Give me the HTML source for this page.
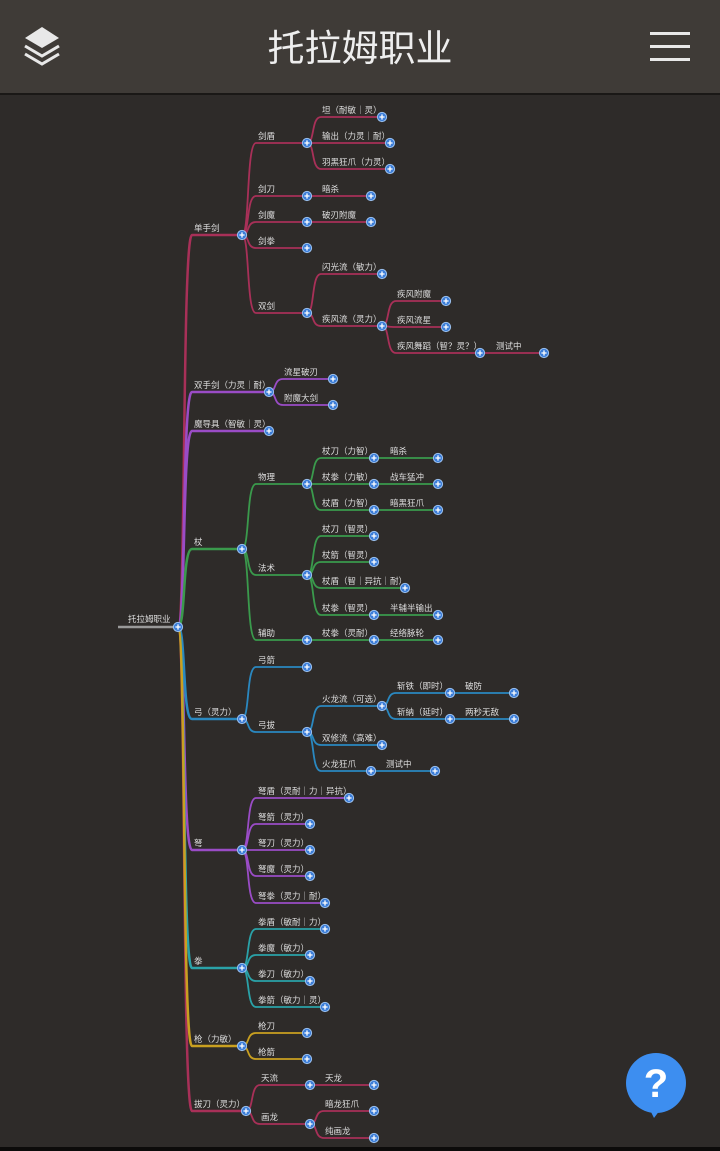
<!DOCTYPE html>
<html><head><meta charset="utf-8"><style>
html,body{margin:0;padding:0;width:720px;height:1151px;overflow:hidden;background:#2e2b29;font-family:"Liberation Sans","Noto Sans CJK SC",sans-serif}
.hdr{position:absolute;left:0;top:0;width:720px;height:93px;background:#3f3b37;border-bottom:2px solid #1a1816}
.title{position:absolute;left:0;width:720px;top:25px;text-align:center;color:#eee;font-size:37px;line-height:48px}
.ham{position:absolute;left:650px;width:40px;height:3px;background:#e8e8e8}
svg{position:absolute;left:0;top:0}
.bot{position:absolute;left:0;top:1147px;width:720px;height:4px;background:#0c0b0a}
</style></head><body>
<div class="hdr">
<svg width="80" height="93" viewBox="0 0 80 93">
<path d="M42 27 L59 38 L42 48 L25 38Z" fill="#e8e8e8"/>
<path d="M25 46 L42 56 L59 46" fill="none" stroke="#e8e8e8" stroke-width="3"/>
<path d="M25 54 L42 64 L59 54" fill="none" stroke="#e8e8e8" stroke-width="3"/>
</svg>
<div class="title">托拉姆职业</div>
<div class="ham" style="top:32px"></div><div class="ham" style="top:45px"></div><div class="ham" style="top:58px"></div>
</div>
<svg width="720" height="1151" viewBox="0 0 720 1151" style="top:0">
<defs><g id="p"><circle r="4.6" fill="#3b7dd8" stroke="#9cc2f0" stroke-width="1"/><path d="M-2.6 0H2.6M0 -2.6V2.6" stroke="#fff" stroke-width="1.3"/></g></defs>
<line x1="118" y1="627" x2="178" y2="627" stroke="#999" stroke-width="2.5"/>
<g fill="none" stroke-width="2.5">
<g stroke="#a83058">
<path d="M178 627C186 627 182 235 192 235H242"/><path d="M178 627C186 627 182 1111 192 1111H246"/>
</g>
<g stroke="#9a4cc6">
<path d="M178 627C186 627 182 392 192 392H269"/><path d="M178 627C186 627 182 431 192 431H269"/><path d="M178 627C186 627 182 850 192 850H242"/>
</g>
<path stroke="#3a9a4c" d="M178 627C186 627 182 549 192 549H242"/>
<path stroke="#2a88c0" d="M178 627C186 627 182 719 192 719H242"/>
<path stroke="#2aa2a8" d="M178 627C186 627 182 968 192 968H242"/>
<path stroke="#c9a020" d="M178 627C186 627 182 1046 192 1046H242"/>
</g>
<g fill="none" stroke-width="1.8">
<g stroke="#a83058">
<path d="M242 235C250 235 246 143 256 143H307"/><path d="M242 235C250 235 246 196 256 196H307"/><path d="M242 235C250 235 246 222 256 222H307"/><path d="M242 235C250 235 246 248 256 248H307"/><path d="M242 235C250 235 246 313 256 313H307"/>
<path d="M307 143C315 143 311 117 321 117H382"/><path d="M307 143H390"/><path d="M307 143C315 143 311 169 321 169H390"/>
<path d="M307 196H371"/><path d="M307 222H371"/>
<path d="M307 313C315 313 311 274 321 274H382"/><path d="M307 313C315 313 311 326 321 326H382"/>
<path d="M382 326C390 326 386 301 396 301H446"/><path d="M382 326C390 326 386 327 396 327H446"/><path d="M382 326C390 326 386 353 396 353H480"/><path d="M480 353H544"/>
<path d="M246 1111C254 1111 250 1085 260 1085H310"/><path d="M246 1111C254 1111 250 1124 260 1124H310"/><path d="M310 1085H374"/>
<path d="M310 1124C318 1124 314 1111 324 1111H374"/><path d="M310 1124C318 1124 314 1138 324 1138H374"/>
</g>
<g stroke="#9a4cc6">
<path d="M269 392C277 392 273 379 283 379H333"/><path d="M269 392C277 392 273 405 283 405H333"/>
<path d="M242 850C250 850 246 798 256 798H349"/><path d="M242 850C250 850 246 824 256 824H310"/><path d="M242 850H310"/><path d="M242 850C250 850 246 876 256 876H310"/><path d="M242 850C250 850 246 903 256 903H325"/>
</g>
<g stroke="#3a9a4c">
<path d="M242 549C250 549 246 484 256 484H307"/><path d="M242 549C250 549 246 575 256 575H307"/><path d="M242 549C250 549 246 640 256 640H307"/>
<path d="M307 484C315 484 311 458 321 458H374"/><path d="M307 484H374"/><path d="M307 484C315 484 311 510 321 510H374"/>
<path d="M374 458H438"/><path d="M374 484H438"/><path d="M374 510H438"/>
<path d="M307 575C315 575 311 536 321 536H374"/><path d="M307 575C315 575 311 562 321 562H374"/><path d="M307 575C315 575 311 588 321 588H405"/><path d="M307 575C315 575 311 615 321 615H374"/><path d="M374 615H438"/>
<path d="M307 640H374"/><path d="M374 640H438"/>
</g>
<g stroke="#2a88c0">
<path d="M242 719C250 719 246 667 256 667H307"/><path d="M242 719C250 719 246 732 256 732H307"/>
<path d="M307 732C315 732 311 706 321 706H382"/><path d="M307 732C315 732 311 745 321 745H382"/><path d="M307 732C315 732 311 771 321 771H371"/><path d="M371 771H435"/>
<path d="M382 706C390 706 386 693 396 693H450"/><path d="M382 706C390 706 386 719 396 719H450"/><path d="M450 693H514"/><path d="M450 719H514"/>
</g>
<g stroke="#2aa2a8">
<path d="M242 968C250 968 246 929 256 929H325"/><path d="M242 968C250 968 246 955 256 955H310"/><path d="M242 968C250 968 246 981 256 981H310"/><path d="M242 968C250 968 246 1007 256 1007H325"/>
</g>
<g stroke="#c9a020">
<path d="M242 1046C250 1046 246 1033 256 1033H307"/><path d="M242 1046C250 1046 246 1059 256 1059H307"/>
</g>
</g>
<g>
<use href="#p" x="178" y="627"/><use href="#p" x="242" y="235"/><use href="#p" x="269" y="392"/><use href="#p" x="269" y="431"/><use href="#p" x="242" y="549"/><use href="#p" x="242" y="719"/><use href="#p" x="242" y="850"/><use href="#p" x="242" y="968"/><use href="#p" x="242" y="1046"/><use href="#p" x="246" y="1111"/>
<use href="#p" x="307" y="143"/><use href="#p" x="382" y="117"/><use href="#p" x="390" y="143"/><use href="#p" x="390" y="169"/>
<use href="#p" x="307" y="196"/><use href="#p" x="371" y="196"/><use href="#p" x="307" y="222"/><use href="#p" x="371" y="222"/><use href="#p" x="307" y="248"/>
<use href="#p" x="307" y="313"/><use href="#p" x="382" y="274"/><use href="#p" x="382" y="326"/><use href="#p" x="446" y="301"/><use href="#p" x="446" y="327"/><use href="#p" x="480" y="353"/><use href="#p" x="544" y="353"/>
<use href="#p" x="333" y="379"/><use href="#p" x="333" y="405"/>
<use href="#p" x="307" y="484"/><use href="#p" x="307" y="575"/><use href="#p" x="307" y="640"/>
<use href="#p" x="374" y="458"/><use href="#p" x="374" y="484"/><use href="#p" x="374" y="510"/><use href="#p" x="438" y="458"/><use href="#p" x="438" y="484"/><use href="#p" x="438" y="510"/>
<use href="#p" x="374" y="536"/><use href="#p" x="374" y="562"/><use href="#p" x="405" y="588"/><use href="#p" x="374" y="615"/><use href="#p" x="438" y="615"/><use href="#p" x="374" y="640"/><use href="#p" x="438" y="640"/>
<use href="#p" x="307" y="667"/><use href="#p" x="307" y="732"/><use href="#p" x="382" y="706"/><use href="#p" x="382" y="745"/><use href="#p" x="371" y="771"/><use href="#p" x="435" y="771"/>
<use href="#p" x="450" y="693"/><use href="#p" x="450" y="719"/><use href="#p" x="514" y="693"/><use href="#p" x="514" y="719"/>
<use href="#p" x="349" y="798"/><use href="#p" x="310" y="824"/><use href="#p" x="310" y="850"/><use href="#p" x="310" y="876"/><use href="#p" x="325" y="903"/>
<use href="#p" x="325" y="929"/><use href="#p" x="310" y="955"/><use href="#p" x="310" y="981"/><use href="#p" x="325" y="1007"/>
<use href="#p" x="307" y="1033"/><use href="#p" x="307" y="1059"/>
<use href="#p" x="310" y="1085"/><use href="#p" x="374" y="1085"/><use href="#p" x="310" y="1124"/><use href="#p" x="374" y="1111"/><use href="#p" x="374" y="1138"/>
</g>
<g fill="#dedede" font-size="8.5" font-family="Liberation Sans, Noto Sans CJK SC, sans-serif">
<text x="128" y="622">托拉姆职业</text>
<text x="194" y="231">单手剑</text><text x="194" y="388">双手剑（力灵｜耐）</text><text x="194" y="427">魔导具（智敏｜灵）</text><text x="194" y="545">杖</text><text x="194" y="715">弓（灵力）</text><text x="194" y="846">弩</text><text x="194" y="964">拳</text><text x="194" y="1042">枪（力敏）</text><text x="194" y="1107">拔刀（灵力）</text>
<text x="258" y="139">剑盾</text><text x="258" y="192">剑刀</text><text x="258" y="218">剑魔</text><text x="258" y="244">剑拳</text><text x="258" y="309">双剑</text>
<text x="322" y="113">坦（耐敏｜灵）</text><text x="322" y="139">输出（力灵｜耐）</text><text x="322" y="165">羽黑狂爪（力灵）</text>
<text x="322" y="192">暗杀</text><text x="322" y="218">破刃附魔</text>
<text x="322" y="270">闪光流（敏力）</text><text x="322" y="322">疾风流（灵力）</text>
<text x="397" y="297">疾风附魔</text><text x="397" y="323">疾风流星</text><text x="397" y="349">疾风舞蹈（智？灵？）</text><text x="496" y="349">测试中</text>
<text x="284" y="375">流星破刃</text><text x="284" y="401">附魔大剑</text>
<text x="258" y="480">物理</text><text x="258" y="571">法术</text><text x="258" y="636">辅助</text>
<text x="322" y="454">杖刀（力智）</text><text x="322" y="480">杖拳（力敏）</text><text x="322" y="506">杖盾（力智）</text>
<text x="390" y="454">暗杀</text><text x="390" y="480">战车猛冲</text><text x="390" y="506">暗黑狂爪</text>
<text x="322" y="532">杖刀（智灵）</text><text x="322" y="558">杖箭（智灵）</text><text x="322" y="584">杖盾（智｜异抗｜耐）</text><text x="322" y="611">杖拳（智灵）</text><text x="390" y="611">半辅半输出</text>
<text x="322" y="636">杖拳（灵耐）</text><text x="390" y="636">经络脉轮</text>
<text x="258" y="663">弓箭</text><text x="258" y="728">弓拔</text>
<text x="322" y="702">火龙流（可选）</text><text x="322" y="741">双修流（高难）</text><text x="322" y="767">火龙狂爪</text><text x="386" y="767">测试中</text>
<text x="397" y="689">斩铁（即时）</text><text x="397" y="715">斩納（延时）</text><text x="465" y="689">破防</text><text x="465" y="715">两秒无敌</text>
<text x="258" y="794">弩盾（灵耐｜力｜异抗）</text><text x="258" y="820">弩箭（灵力）</text><text x="258" y="846">弩刀（灵力）</text><text x="258" y="872">弩魔（灵力）</text><text x="258" y="899">弩拳（灵力｜耐）</text>
<text x="258" y="925">拳盾（敏耐｜力）</text><text x="258" y="951">拳魔（敏力）</text><text x="258" y="977">拳刀（敏力）</text><text x="258" y="1003">拳箭（敏力｜灵）</text>
<text x="258" y="1029">枪刀</text><text x="258" y="1055">枪箭</text>
<text x="261" y="1081">天流</text><text x="261" y="1120">画龙</text><text x="325" y="1081">天龙</text><text x="325" y="1107">暗龙狂爪</text><text x="325" y="1134">纯画龙</text>
</g>
<circle cx="656" cy="1083" r="30" fill="#3d8ef0"/>
<path d="M650 1110 L654 1118 L660 1110Z" fill="#3d8ef0"/>
<text x="656" y="1097" text-anchor="middle" fill="#fff" font-size="40" font-weight="bold" font-family="Liberation Sans, sans-serif">?</text>
</svg>
<div class="bot"></div>
</body></html>
